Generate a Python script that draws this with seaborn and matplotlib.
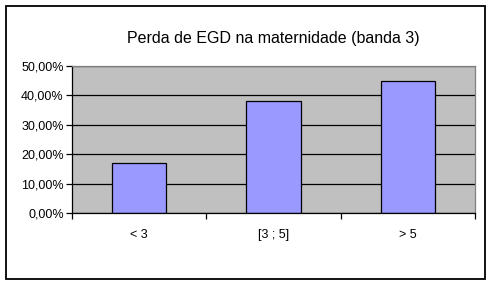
import matplotlib
matplotlib.use("Agg")
import matplotlib.pyplot as plt
import seaborn as sns
import pandas as pd
from matplotlib.patches import Rectangle
from matplotlib.ticker import FuncFormatter, FixedLocator, NullFormatter

categories = ["< 3", "[3 ; 5]", "> 5"]
values = [17.0, 38.1, 44.9]
title = "Perda de EGD na maternidade (banda 3)"
yticks = [0, 10, 20, 30, 40, 50]

sns.set_style("white")
plt.rcParams["font.family"] = ["Liberation Sans", "DejaVu Sans"]
plt.rcParams["text.color"] = "black"
plt.rcParams["xtick.color"] = "black"
plt.rcParams["ytick.color"] = "black"
plt.rcParams["xtick.labelcolor"] = "black"
plt.rcParams["ytick.labelcolor"] = "black"

df = pd.DataFrame({"cat": categories, "val": values})

fig = plt.figure(figsize=(4.91, 2.84), dpi=100)
fig.patch.set_facecolor("white")
fig.patches.append(Rectangle((5.5/491, 1 - 278.5/284), (484.5-5.5)/491, (278.5-5.5)/284,
                             transform=fig.transFigure, fill=False, edgecolor="black", lw=1.3))

ax = fig.add_axes([72/491, 1 - 213.3/284, (475-72)/491, (213.3-66)/284])
ax.set_facecolor("#C0C0C0")
sns.barplot(data=df, x="cat", y="val", ax=ax, color="#9999FF", width=0.405,
            edgecolor="black", linewidth=0.9, saturation=1)
ax.set_xlim(-0.5, 2.5)
ax.set_ylim(0, 50)
ax.set_yticks(yticks)
ax.yaxis.set_major_formatter(FuncFormatter(lambda v, p: f"{v:.2f}%".replace(".", ",")))
ax.set_axisbelow(True)
ax.grid(axis="y", color="black", lw=0.9)
ax.grid(axis="x", visible=False)
ax.set_xlabel("")
ax.set_ylabel("")
ax.xaxis.set_major_locator(FixedLocator([-0.5, 0.5, 1.5, 2.5]))
ax.xaxis.set_major_formatter(NullFormatter())
ax.xaxis.set_minor_locator(FixedLocator([0, 1, 2]))
ax.set_xticklabels(categories, minor=True)
ax.tick_params(axis="x", which="minor", length=0, pad=11, labelsize=9, labelcolor="black")
ax.tick_params(axis="x", which="major", length=4, width=0.9, direction="out", bottom=True, color="black")
ax.tick_params(axis="y", length=4, width=0.9, direction="out", left=True, labelsize=9, pad=2,
               color="black", labelcolor="black")
for s in ["top", "right"]:
    ax.spines[s].set_visible(True)
    ax.spines[s].set_color("#808080")
    ax.spines[s].set_linewidth(0.9)
for s in ["left", "bottom"]:
    ax.spines[s].set_color("black")
    ax.spines[s].set_linewidth(0.9)
fig.text((72+475)/2/491, 1 - 38/284, title, ha="center", va="center", fontsize=11.5, color="black")

fig.savefig("out.png", dpi=100)
